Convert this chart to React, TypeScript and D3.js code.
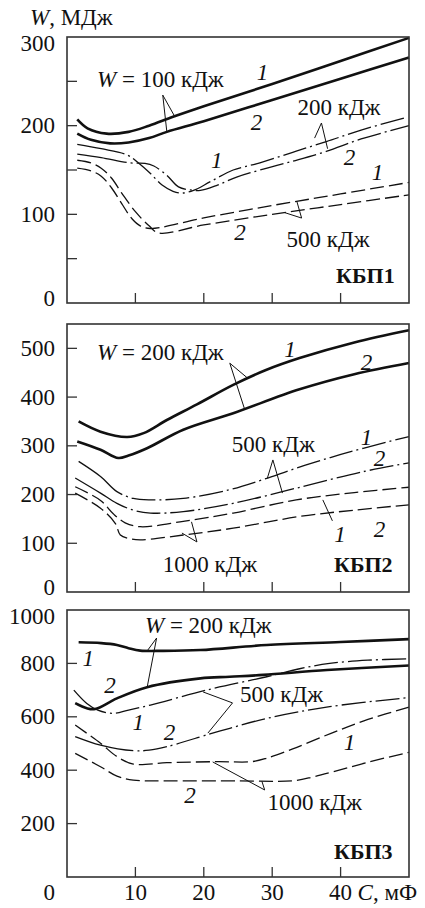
import React from "react";
import * as d3 from "d3";

// ---------- DATA (C in mF, W in MJ) ----------
// Panel КБП1
const p1_100_1: [number, number][] = [[1.5,207],[3,197],[5.8,191],[9,193],[12,200],[15.5,210],[20,222],[30,247],[40,273],[50,299]];
const p1_100_2: [number, number][] = [[1.5,191],[3.5,184],[6.3,180],[9,181],[12,186],[14.6,193],[20,205],[30,229],[40,253],[50,277]];
const p1_200_1: [number, number][] = [[1.5,179],[5,174],[8.8,167],[10.5,157.5],[12.2,146],[13.9,133],[15.5,126],[16.8,124],[18.5,127],[21,137],[24.3,150],[28.2,158],[33,170],[37.9,182],[43,195],[49.5,209]];
const p1_200_2: [number, number][] = [[1.5,168],[5,164],[9.2,158],[11.4,157.5],[12.7,154.5],[14.6,144],[16.3,131],[18,127.5],[19.5,127],[22,133],[24.8,142],[28.2,150],[33,160],[37.9,171],[43,185],[50,200]];
const p1_500_1: [number, number][] = [[1.5,152],[3.5,149],[5,143],[6.5,130],[8,112],[9.5,95],[10.7,87],[12.2,84],[20,96],[30,110],[40,123],[50,136]];
const p1_500_2: [number, number][] = [[1.5,161],[3.5,158],[5,152],[6.5,141],[8,124],[10,103],[12,87],[13.4,79],[20,88],[30,100],[40,111],[50,122]];

// Panel КБП2
const p2_200_1: [number, number][] = [[1.7,350],[4.9,329],[8.8,318],[11.2,326],[14.6,353],[19,385],[24.3,425],[29,455],[34,480],[42,512],[50,537]];
const p2_200_2: [number, number][] = [[1.5,309],[4.9,292],[7.5,275],[9,280],[11.7,295],[17,333],[24.3,367],[34,416],[42,447],[50,470]];
const p2_500_1: [number, number][] = [[1.7,268],[4.9,237],[7.3,206],[9.7,192],[12.2,189],[17,192],[23.8,210],[28.5,230],[33.5,254],[38.5,276],[43.3,295],[50,319]];
const p2_500_2: [number, number][] = [[1.2,234],[4.9,203],[7.3,182],[9.7,168],[12.2,162],[17,165],[24.3,182],[33.5,213],[43.3,247],[50,265]];
const p2_1000_1: [number, number][] = [[1.2,216],[4.9,188],[6.8,160],[8.5,142],[10.7,134],[17,145],[24.3,162],[33.5,189],[42,204],[50,215]];
const p2_1000_2: [number, number][] = [[1.2,203],[4.9,172],[7.05,141],[7.8,117],[9,110],[10.7,107],[17,117],[24.3,131],[34,155],[42,168],[50,179]];

// Panel КБП3
const p3_200_1: [number, number][] = [[1.7,879],[5,876],[7.3,869],[9,857],[10.7,848],[14,847],[19.5,850],[29.2,869],[40,880],[50,891]];
const p3_200_2: [number, number][] = [[1.2,651],[2.9,632],[4.1,629],[7.3,669],[11.7,711],[19.5,744],[23.8,750],[28.7,757],[38,775],[50,792]];
const p3_500_1: [number, number][] = [[1,700],[2.9,650],[4.5,625],[6.8,613],[9,625],[12.2,644],[20.4,700],[29.2,750],[34,780],[38.4,800],[44,812],[50,817]];
const p3_500_2: [number, number][] = [[1.2,526],[4.9,494],[9.7,473],[12,475],[14.6,488],[20.9,536],[23.8,557],[29.2,594],[38.4,638],[50,672]];
const p3_1000_1: [number, number][] = [[1.2,569],[4.9,501],[7.3,451],[9.7,423],[14.6,428],[21.9,432],[27,432],[29.2,445],[33,480],[38.6,538],[44,590],[50,636]];
const p3_1000_2: [number, number][] = [[1.2,463],[4.9,413],[7.3,378],[9.7,363],[15,360],[25,360],[33,360],[36,375],[38.9,394],[44,430],[50,467]];

// Axis ticks
const xTicks = [10, 20, 30, 40];
const p1Ticks = [50, 100, 150, 200, 250];
const p1Labels = [0, 100, 200, 300];
const p2Ticks = [100, 200, 300, 400, 500];
const p2Labels = [0, 100, 200, 300, 400, 500];
const p3Ticks = [200, 400, 600, 800];
const p3Labels = [200, 400, 600, 800, 1000];

// Annotations (data coords)
type Txt = { c: number; v: number; t: string; kind: "num" | "lbl" | "w" | "name" };
type Lead = { from: [number, number]; to: [number, number][] };

const p1Texts: Txt[] = [
  { c: 4.4, v: 243.5, t: "= 100 кДж", kind: "w" },
  { c: 28.6, v: 260, t: "1", kind: "num" },
  { c: 27.7, v: 204, t: "2", kind: "num" },
  { c: 33.7, v: 212, t: "200 кДж", kind: "lbl" },
  { c: 21.9, v: 161, t: "1", kind: "num" },
  { c: 41.3, v: 164.6, t: "2", kind: "num" },
  { c: 45.4, v: 147.7, t: "1", kind: "num" },
  { c: 25.3, v: 79, t: "2", kind: "num" },
  { c: 32.1, v: 63, t: "500 кДж", kind: "lbl" },
  { c: 47.9, v: 22, t: "КБП1", kind: "name" },
];
const p1Leads: Lead[] = [
  { from: [14, 234.5], to: [[15.8, 209.7], [14.6, 192.8]] },
  { from: [37.2, 203], to: [[36.2, 186], [38.1, 174]] },
  { from: [34.3, 95.8], to: [[33.6, 114.7], [31.8, 102]] },
];
const p2Texts: Txt[] = [
  { c: 4.4, v: 476, t: "= 200 кДж", kind: "w" },
  { c: 32.6, v: 497, t: "1", kind: "num" },
  { c: 43.8, v: 470, t: "2", kind: "num" },
  { c: 24.1, v: 287.5, t: "500 кДж", kind: "lbl" },
  { c: 43.8, v: 318, t: "1", kind: "num" },
  { c: 45.7, v: 275, t: "2", kind: "num" },
  { c: 39.9, v: 117, t: "1", kind: "num" },
  { c: 45.7, v: 128, t: "2", kind: "num" },
  { c: 14, v: 42, t: "1000 кДж", kind: "lbl" },
  { c: 47.6, v: 42, t: "КБП2", kind: "name" },
];
const p2Leads: Lead[] = [
  { from: [23.8, 469.6], to: [[26.4, 439], [26, 373.7]] },
  { from: [30.1, 271], to: [[29.3, 234], [31.5, 203]] },
  { from: [38.8, 146], to: [[37.4, 189]] },
  { from: [19, 102.7], to: [[16.8, 121], [18.2, 144]] },
];
const p3Texts: Txt[] = [
  { c: 11.4, v: 914, t: "= 200 кДж", kind: "w" },
  { c: 3.1, v: 820, t: "1", kind: "num" },
  { c: 6.3, v: 719, t: "2", kind: "num" },
  { c: 25.3, v: 655, t: "500 кДж", kind: "lbl" },
  { c: 10.4, v: 580, t: "1", kind: "num" },
  { c: 15, v: 543, t: "2", kind: "num" },
  { c: 41.3, v: 502, t: "1", kind: "num" },
  { c: 18, v: 307, t: "2", kind: "num" },
  { c: 29.3, v: 251, t: "1000 кДж", kind: "lbl" },
  { c: 47.6, v: 66, t: "КБП3", kind: "name" },
];
const p3Leads: Lead[] = [
  { from: [13.1, 895], to: [[11.7, 846], [11.7, 708]] },
  { from: [24.2, 652], to: [[19.9, 693], [20.6, 539]] },
  { from: [28.9, 326], to: [[21.3, 431], [28.5, 358]] },
];

// ---------- STYLES ----------
const FONT = "Liberation Serif, Times New Roman, DejaVu Serif, serif";
const FS = 23;
const X0 = 67, X1 = 409;
const DASH = "14,5";
// dash-dot drawn with a solid lead-in (as in the original figure)
const dashDot = (lead: number) =>
  [lead, 4, 2, 4, ...Array(40).fill([24, 4, 2, 4]).flat()].join(",");

type Series = { data: [number, number][]; w: number; dash?: string };

const panels = [
  {
    top: 37, bottom: 303, max: 300, ticks: p1Ticks, labels: p1Labels, zeroLabel: true,
    series: [
      { data: p1_100_1, w: 2.6 }, { data: p1_100_2, w: 2.6 },
      { data: p1_200_1, w: 1.3, dash: dashDot(48) }, { data: p1_200_2, w: 1.3, dash: dashDot(50) },
      { data: p1_500_1, w: 1.3, dash: DASH }, { data: p1_500_2, w: 1.3, dash: DASH },
    ] as Series[],
    texts: p1Texts, leads: p1Leads,
  },
  {
    top: 324, bottom: 592, max: 550, ticks: p2Ticks, labels: p2Labels, zeroLabel: true,
    series: [
      { data: p2_200_1, w: 2.6 }, { data: p2_200_2, w: 2.6 },
      { data: p2_500_1, w: 1.3, dash: dashDot(55) }, { data: p2_500_2, w: 1.3, dash: dashDot(60) },
      { data: p2_1000_1, w: 1.3, dash: DASH }, { data: p2_1000_2, w: 1.3, dash: DASH },
    ] as Series[],
    texts: p2Texts, leads: p2Leads,
  },
  {
    top: 610, bottom: 877, max: 1000, ticks: p3Ticks, labels: p3Labels, zeroLabel: false,
    series: [
      { data: p3_200_1, w: 2.6 }, { data: p3_200_2, w: 2.6 },
      { data: p3_500_1, w: 1.3, dash: dashDot(40) }, { data: p3_500_2, w: 1.3, dash: dashDot(60) },
      { data: p3_1000_1, w: 1.3, dash: DASH }, { data: p3_1000_2, w: 1.3, dash: DASH },
    ] as Series[],
    texts: p3Texts, leads: p3Leads,
  },
];

const x = d3.scaleLinear().domain([0, 50]).range([X0, X1]);

function Panel({ p }: { p: (typeof panels)[number] }) {
  const y = d3.scaleLinear().domain([0, p.max]).range([p.bottom, p.top]);
  const line = d3
    .line<[number, number]>()
    .x((d) => x(d[0]))
    .y((d) => y(d[1]))
    .curve(d3.curveCatmullRom.alpha(0.5));
  return (
    <g>
      {p.series.map((s, i) => (
        <path key={i} d={line(s.data) || ""} fill="none" stroke="#111" strokeWidth={s.w}
          strokeDasharray={s.dash} strokeLinejoin="round" />
      ))}
      {p.leads.map((l, i) => (
        <g key={i}>
          {l.to.map((t, j) => (
            <line key={j} x1={x(l.from[0])} y1={y(l.from[1])} x2={x(t[0])} y2={y(t[1])}
              stroke="#111" strokeWidth={1} />
          ))}
        </g>
      ))}
      {p.texts.map((t, i) => {
        if (t.kind === "num")
          return (
            <text key={i} x={x(t.c)} y={y(t.v)} fontStyle="italic" fontSize={FS}
              textAnchor="middle" dominantBaseline="central" fill="#111">{t.t}</text>
          );
        if (t.kind === "w")
          return (
            <text key={i} x={x(t.c)} y={y(t.v)} fontSize={FS} fill="#111">
              <tspan fontStyle="italic">W</tspan> {t.t}
            </text>
          );
        if (t.kind === "name")
          return (
            <text key={i} x={x(t.c)} y={y(t.v)} fontSize={FS - 1} fontWeight="bold"
              textAnchor="end" fill="#111">{t.t}</text>
          );
        return (
          <text key={i} x={x(t.c)} y={y(t.v)} fontSize={FS} fill="#111">{t.t}</text>
        );
      })}
      {/* frame */}
      <rect x={X0} y={p.top} width={X1 - X0} height={p.bottom - p.top} fill="none"
        stroke="#333" strokeWidth={1.6} />
      {p.ticks.map((t) => (
        <line key={"yt" + t} x1={X0} x2={X0 + 10} y1={y(t)} y2={y(t)} stroke="#333" strokeWidth={1.3} />
      ))}
      {xTicks.map((t) => (
        <line key={"xt" + t} x1={x(t)} x2={x(t)} y1={p.bottom} y2={p.bottom - 10} stroke="#333" strokeWidth={1.3} />
      ))}
      {p.labels.map((t) => {
        let yy = y(t);
        yy = Math.max(p.top + 6, Math.min(p.bottom - 5, yy));
        if (t === 0 && !p.zeroLabel) return null;
        return (
          <text key={"yl" + t} x={X0 - 12} y={yy} fontSize={FS} textAnchor="end"
            dominantBaseline="central" fill="#111">{t}</text>
        );
      })}
    </g>
  );
}

export default function App() {
  const last = panels[2];
  const by = last.bottom + 23;
  return (
    <svg width={425} height={908} style={{ display: "block", position: "absolute", left: 0, top: 0, fontFamily: FONT }}>
      <rect width={425} height={908} fill="#fff" />
      <text x={30} y={25} fontSize={FS} fill="#111">
        <tspan fontStyle="italic">W</tspan>, МДж
      </text>
      {panels.map((p, i) => <Panel key={i} p={p} />)}
      <text x={X0 - 12} y={by} fontSize={FS} textAnchor="end" fill="#111">0</text>
      {xTicks.map((t) => (
        <text key={t} x={x(t)} y={by} fontSize={FS} textAnchor="middle" fill="#111">{t}</text>
      ))}
      <text x={x(40) + 17} y={by} fontSize={FS} fill="#111">
        <tspan fontStyle="italic">C</tspan>, мФ
      </text>
    </svg>
  );
}
